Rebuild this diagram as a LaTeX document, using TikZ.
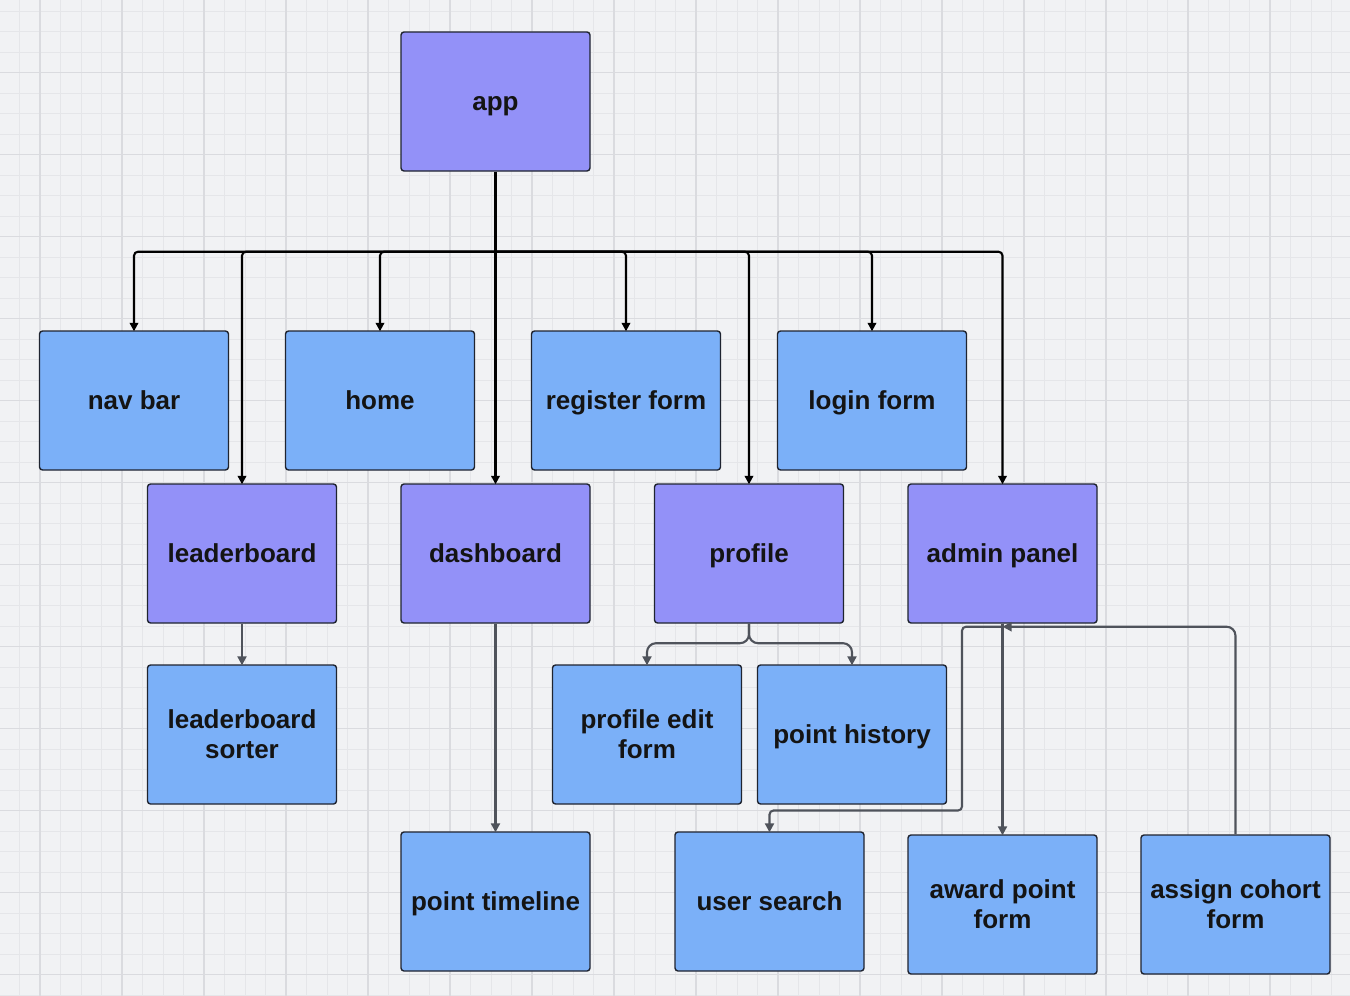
\documentclass[tikz,border=0pt]{standalone}
\usepackage{fontspec}
\setmainfont{Liberation Sans}
\usetikzlibrary{arrows.meta}
\definecolor{bgc}{HTML}{F1F2F4}
\definecolor{gminor}{HTML}{E5E6E9}
\definecolor{gmajor}{HTML}{DADBDF}
\definecolor{purp}{HTML}{9391F8}
\definecolor{blu}{HTML}{7BB0F8}
\definecolor{edge}{HTML}{1F2430}
\definecolor{gline}{HTML}{4F535B}
\tikzset{
  box/.style={rectangle, rounded corners=3pt, draw=edge, line width=1.4pt,
    minimum width=189pt, minimum height=139pt, inner sep=4pt, align=center,
    font=\fontsize{26}{30}\selectfont\bfseries, text=black!92},
  one/.style={text height=19pt, text depth=1pt},
  pbox/.style={box, one, fill=purp},
  bbox/.style={box, one, fill=blu},
  bbox2/.style={box, fill=blu},
  tip/.style={-{Triangle[length=8.5pt,width=8.5pt]}},
  blkline/.style={draw=black, line width=2.1pt},
  blk/.style={blkline, tip, rounded corners=4pt},
  gry/.style={draw=gline, line width=2.1pt, -{Triangle[length=9pt,width=9pt]}},
}
\begin{document}
\begin{tikzpicture}[x=1pt,y=-1pt]
\fill[bgc] (0,0) rectangle (1350,996);
\useasboundingbox (0,0) rectangle (1350,996);
\foreach \i in {0,...,66} \draw[gminor, line width=0.9pt] ({-1+20.5*\i},0) -- ++(0,996);
\foreach \j in {0,...,48} \draw[gminor, line width=0.9pt] (0,{11.2+20.5*\j}) -- ++(1350,0);
\foreach \i in {0,...,16} \draw[gmajor, line width=1.1pt] ({40+82*\i},0) -- ++(0,996);
\foreach \j in {0,...,11} \draw[gmajor, line width=1.1pt] (0,{72.7+82*\j}) -- ++(1350,0);

% nodes
\node[pbox] (app) at (495.5,101.5) {app};
\node[bbox] (navbar) at (134,400.5) {nav bar};
\node[bbox] (home) at (380,400.5) {home};
\node[bbox] (register) at (626,400.5) {register form};
\node[bbox] (login) at (872,400.5) {login form};
\node[pbox] (leader) at (242,553.5) {leaderboard};
\node[pbox] (dash) at (495.5,553.5) {dashboard};
\node[pbox] (profile) at (749,553.5) {profile};
\node[pbox] (admin) at (1002.5,553.5) {admin panel};
\node[bbox2] (sorter) at (242,734.5) {leaderboard\\sorter};
\node[bbox2] (pedit) at (647,734.5) {profile edit\\form};
\node[bbox] (phist) at (852,734.5) {point history};
\node[bbox] (ptime) at (495.5,901.5) {point timeline};
\node[bbox] (usearch) at (769.5,901.5) {user search};
\node[bbox2] (award) at (1002.5,904.5) {award point\\form};
\node[bbox2] (assign) at (1235.5,904.5) {assign cohort\\form};

% black bus from app
\coordinate (busc) at ([yshift=-80pt]app.south);
\draw[blkline] (app.south) -- (busc);
\foreach \t in {navbar,home,register,login,leader,dash,profile,admin}
  \draw[blk] (busc) -| ([yshift=-1pt]\t.north);

% grey connectors
\draw[gry] (leader.south) -- ([yshift=-1pt]sorter.north);
\draw[gry] (dash.south) -- ([yshift=-1pt]ptime.north);
\draw[gry, rounded corners=9pt] (profile.south) -- ++(0,19.5) -| ([yshift=-1pt]pedit.north);
\draw[gry, rounded corners=9pt] (profile.south) -- ++(0,19.5) -| ([yshift=-1pt]phist.north);
\coordinate (jdown) at (962,810.5);
\draw[gry, rounded corners=4pt] ([yshift=-3pt]admin.south) -| (jdown) -| ([yshift=-1pt]usearch.north);
\draw[gry] (admin.south) -- ([yshift=-1pt]award.north);
\draw[gry, rounded corners=9pt] (assign.north) |- ([yshift=-3pt]admin.south);
\end{tikzpicture}
\end{document}
